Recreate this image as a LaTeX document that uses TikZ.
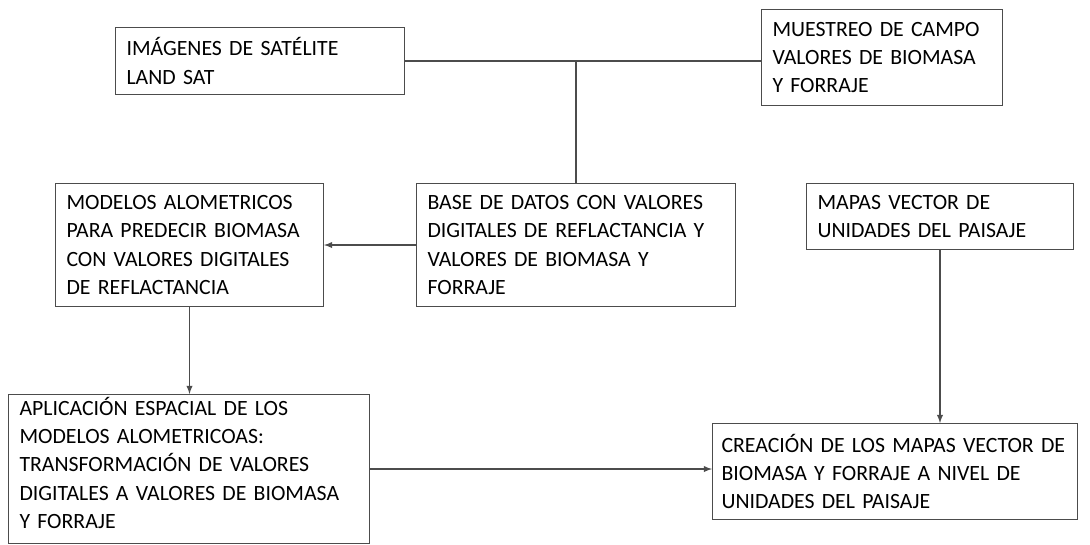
\documentclass[tikz,border=0pt]{standalone}
\usepackage{fontspec}
\setmainfont{Carlito}
\usepackage{tikz}
\usetikzlibrary{shapes,arrows}
\usetikzlibrary{calc}

\begin{document}
\begin{tikzpicture}[x=0.02cm,y=-0.02cm,
	caja/.style={draw=black!70,line width=0.6pt,anchor=north west,align=left,
		inner xsep=0.22cm,inner ysep=0pt,
		font=\fontsize{12.4}{16.1}\selectfont},
	flecha/.style={draw=black!70,line width=0.6pt,-latex}]
	\useasboundingbox (0,0) rectangle (1090,545);
	
	\node[caja,text width=5.34cm,minimum height=1.34cm] (sat) at (115,27) {IMÁGENES DE SATÉLITE\\LAND SAT};
	\node[caja,text width=4.38cm,minimum height=1.92cm] (campo) at (761,9) {MUESTREO DE CAMPO\\VALORES DE BIOMASA\\Y FORRAJE};
	
	\node[caja,text width=4.92cm,minimum height=2.46cm] (modelos) at (55,183) {MODELOS ALOMETRICOS\\PARA PREDECIR BIOMASA\\CON VALORES DIGITALES\\DE REFLACTANCIA};
	\node[caja,text width=5.94cm,minimum height=2.46cm] (base) at (416,183) {BASE DE DATOS CON VALORES\\DIGITALES DE REFLACTANCIA Y\\VALORES DE BIOMASA Y\\FORRAJE};
	\node[caja,text width=4.90cm,minimum height=1.32cm] (mapas) at (806,183) {MAPAS VECTOR DE\\UNIDADES DEL PAISAJE};
	
	\node[caja,text width=6.78cm,minimum height=2.98cm,text depth=2.51cm] (aplic) at (8,394) {APLICACIÓN ESPACIAL DE LOS\\MODELOS ALOMETRICOAS:\\TRANSFORMACIÓN DE VALORES\\DIGITALES A VALORES DE BIOMASA\\Y FORRAJE};
	\node[caja,inner xsep=0.18cm,text width=6.94cm,minimum height=1.92cm] (crea) at (712,423) {CREACIÓN DE LOS MAPAS VECTOR DE\\BIOMASA Y FORRAJE A NIVEL DE\\UNIDADES DEL PAISAJE};
	
	% union de imagenes y muestreo
	\draw[draw=black!70,line width=0.6pt] (sat.east) -- (sat.east -| campo.west);
	\draw[draw=black!70,line width=0.6pt] (base.north) -- (base.north |- sat.east);
	
	\draw[flecha] (base.west) -- (base.west -| modelos.east);
	\draw[flecha] (modelos.south) -- (modelos.south |- aplic.north);
	\draw[flecha] (aplic.east) -- (aplic.east -| crea.west);
	\draw[flecha] (mapas.south) -- (mapas.south |- crea.north);
\end{tikzpicture}
\end{document}
